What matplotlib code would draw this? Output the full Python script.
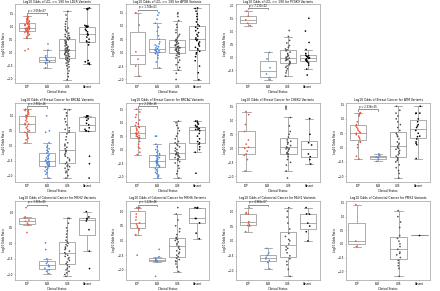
import numpy as np
import pandas as pd
import matplotlib
matplotlib.use("Agg")
import matplotlib.pyplot as plt
import seaborn as sns

np.random.seed(0)

order = ["PLP", "BLB", "VUS", "Absent"]
colors = {"PLP": "#e8523a", "BLB": "#4a86d9", "VUS": "#4d4d4d", "Absent": "#000000"}

# ---- LDL >= 190 ----
ldlr_plp = [1.40, 1.38, 1.35, 1.33, 1.30, 1.28, 1.25, 1.22, 1.20, 1.18, 1.15, 1.12, 1.10, 1.08,
            1.07, 1.06, 1.05, 1.03, 1.01, 1.00, 0.98, 0.96, 0.95, 0.94, 0.93, 0.92, 0.91, 0.90,
            0.88, 0.86, 0.85, 0.83, 0.82, 0.80, 0.79, 0.78, 0.76, 0.74, 0.70, 0.66, 0.60, 0.55,
            0.14, 0.08]
ldlr_blb = [0.34, 0.10, -0.12, -0.18, -0.22, -0.26, -0.29, -0.31, -0.35, -0.38, -0.42, -0.58]
ldlr_vus = [1.59, 1.45, 1.30, 1.20, 1.10, 1.00, 0.95, 0.90, 0.85, 0.80, 0.75, 0.70, 0.66, 0.62,
            0.58, 0.57, 0.55, 0.52, 0.50, 0.47, 0.44, 0.41, 0.38, 0.35, 0.32, 0.29, 0.26, 0.23,
            0.20, 0.18, 0.16, 0.14, 0.12, 0.10, 0.09, 0.08, 0.07, 0.05, 0.03, 0.01, -0.01, -0.03,
            -0.05, -0.07, -0.09, -0.11, -0.13, -0.15, -0.17, -0.19, -0.21, -0.23, -0.25, -0.27,
            -0.30, -0.33, -0.36, -0.40, -0.45, -0.50, -0.55, -0.62, -0.70, -0.80, -0.92, -1.04]
ldlr_abs = [1.72, 1.70, 1.68, 1.66, 1.05, 1.03, 1.02, 1.00, 1.00, 0.98, 0.90, 0.85, 0.80, 0.72,
            0.70, 0.70, 0.68, 0.60, 0.52, 0.45, 0.42, 0.40, 0.30, -0.30, -0.35, -0.40, -0.42, -0.45]

apob_plp = [1.49, 1.03, 0.03, -0.24, -0.50, -0.88]
apob_blb = [1.49, 1.40, 1.25, 1.10, 0.95, 0.80, 0.63, 0.50, 0.40, 0.33, 0.29, 0.25, 0.22, 0.18,
            0.15, 0.12, 0.10, 0.09, 0.08, 0.06, 0.04, 0.02, 0.00, -0.02, -0.04, -0.10, -0.20,
            -0.35, -0.57]
apob_vus = [1.49, 1.45, 1.35, 1.20, 1.05, 0.95, 0.85, 0.75, 0.68, 0.62, 0.56, 0.50, 0.47, 0.44,
            0.41, 0.38, 0.35, 0.32, 0.30, 0.28, 0.26, 0.24, 0.22, 0.20, 0.19, 0.18, 0.16, 0.14,
            0.12, 0.10, 0.08, 0.06, 0.04, 0.02, 0.00, -0.03, -0.06, -0.10, -0.15, -0.20, -0.28,
            -0.36, -0.45, -0.55, -0.65, -0.77, -1.00]
apob_abs = [1.67, 1.65, 1.55, 1.45, 1.35, 1.25, 1.15, 1.05, 1.00, 0.95, 0.90, 0.82, 0.75, 0.68,
            0.62, 0.55, 0.50, 0.49, 0.45, 0.40, 0.35, 0.30, 0.25, 0.20, 0.15, 0.10, 0.05, 0.00,
            -0.05, -0.15, -0.30, -0.50, -0.75, -1.01]

pcsk9_plp = [1.78, 1.58, 1.44, 1.31, 1.22]
pcsk9_blb = [0.19, -0.06, -0.40, -0.64, -0.78, -0.86]
pcsk9_vus = [1.03, 0.80, 0.65, 0.55, 0.45, 0.38, 0.32, 0.29, 0.25, 0.20, 0.15, 0.10, 0.06, 0.03,
             0.00, -0.03, -0.06, -0.08, -0.10, -0.12, -0.15, -0.18, -0.21, -0.25, -0.29, -0.33,
             -0.38, -0.44, -0.52, -0.60, -0.72]
pcsk9_abs = [1.50, 1.01, 0.57, 0.30, 0.15, 0.08, 0.06, 0.04, 0.02, 0.00, -0.02, -0.04, -0.06,
             -0.08, -0.10, -0.12, -0.15, -0.18, -0.22, -0.30, -0.45, -0.68]

# ---- Breast cancer ----
brca1_plp = [1.22, 1.20, 1.18, 1.15, 1.10, 1.05, 1.02, 1.00, 0.98, 0.95, 0.90, 0.85, 0.80, 0.75,
             0.72, 0.70, 0.65, 0.60, 0.55, 0.50, 0.48, 0.45, 0.40, 0.35, 0.30, 0.25, 0.20, 0.10]
brca1_blb = [1.00, 0.50, 0.45, 0.10, 0.00, -0.05, -0.10, -0.15, -0.20, -0.25, -0.30, -0.33,
             -0.36, -0.40, -0.42, -0.45, -0.48, -0.50, -0.52, -0.54, -0.55, -0.56, -0.58, -0.60,
             -0.62, -0.64, -0.66, -0.68, -0.70, -0.72, -0.75, -0.80, -0.85, -0.90, -0.95, -1.08]
brca1_vus = [1.22, 1.20, 1.10, 1.00, 0.90, 0.80, 0.70, 0.60, 0.55, 0.50, 0.45, 0.40, 0.30, 0.20,
             0.10, 0.05, 0.00, -0.05, -0.10, -0.15, -0.18, -0.20, -0.25, -0.30, -0.35, -0.40,
             -0.45, -0.50, -0.55, -0.60, -0.65, -0.68, -0.70, -0.75, -0.80, -0.85, -0.90, -1.00,
             -1.08]
brca1_abs = [1.00, 1.00, 1.00, 0.98, 0.95, 0.90, 0.85, 0.75, 0.70, 0.60, 0.55, 0.50, 0.50, 0.48,
             -0.35, -0.60, -1.08]

brca2_plp = [1.50, 1.40, 1.30, 1.20, 1.10, 1.00, 0.95, 0.90, 0.85, 0.82, 0.80, 0.75, 0.70, 0.65,
             0.62, 0.60, 0.58, 0.55, 0.52, 0.50, 0.48, 0.45, 0.44, 0.40, 0.30, 0.20, 0.10, 0.05,
             -0.10, -0.19]
brca2_blb = [0.50, 0.50, 0.20, 0.10, 0.00, -0.05, -0.10, -0.15, -0.20, -0.22, -0.25, -0.28, -0.30,
             -0.33, -0.36, -0.40, -0.42, -0.44, -0.46, -0.48, -0.50, -0.52, -0.55, -0.58, -0.60,
             -0.62, -0.65, -0.70, -0.75, -0.80, -0.85, -0.90, -0.95, -1.00, -1.06]
brca2_vus = [1.06, 1.00, 0.90, 0.80, 0.70, 0.60, 0.50, 0.40, 0.30, 0.25, 0.20, 0.15, 0.10, 0.05,
             0.00, -0.05, -0.10, -0.12, -0.15, -0.18, -0.19, -0.20, -0.22, -0.25, -0.28, -0.30,
             -0.33, -0.36, -0.40, -0.45, -0.50, -0.60, -0.70, -0.80, -0.90, -1.06]
brca2_abs = [1.06, 1.06, 1.00, 0.95, 0.90, 0.85, 0.85, 0.80, 0.78, 0.75, 0.75, 0.70, 0.60, 0.50,
             0.40, 0.30, 0.25, 0.20, 0.10, 0.00, -0.10, -0.88]

chek2_plp = [1.31, 1.20, 0.85, 0.60, 0.30, 0.15, 0.04, 0.00, -0.10, -0.20, -0.25, -0.40, -0.81]
chek2_blb = []
chek2_vus = [1.50, 1.45, 1.40, 1.10, 0.80, 0.60, 0.50, 0.40, 0.30, 0.25, 0.22, 0.20, 0.15, 0.10,
             0.05, 0.02, 0.00, -0.02, -0.05, -0.10, -0.15, -0.18, -0.20, -0.22, -0.30, -0.40,
             -0.50, -0.60, -0.81, -1.06]
chek2_abs = [1.06, 0.50, 0.20, 0.12, -0.20, -0.30, -0.40, -0.56]

atm_plp = [1.22, 1.20, 1.15, 1.10, 0.90, 0.80, 0.75, 0.70, 0.65, 0.60, 0.55, 0.52, 0.50, 0.45,
           0.40, 0.35, 0.30, 0.20, 0.19, 0.10, 0.00, -0.30, -0.40]
atm_blb = [-0.22, -0.28, -0.33, -0.35, -0.40, -0.48]
atm_vus = [1.44, 1.30, 1.20, 1.10, 1.00, 0.90, 0.80, 0.70, 0.60, 0.50, 0.45, 0.40, 0.38, 0.30,
           0.20, 0.15, 0.10, 0.05, 0.00, -0.03, -0.06, -0.10, -0.15, -0.20, -0.25, -0.30, -0.35,
           -0.40, -0.45, -0.50, -0.60, -0.70, -0.80, -0.90, -1.06]
atm_abs = [1.44, 1.20, 1.20, 1.19, 1.00, 0.90, 0.80, 0.75, 0.70, 0.60, 0.50, 0.40, 0.38, 0.30,
           0.20, 0.15, 0.10, -0.38]

# ---- Colorectal cancer ----
msh2_plp = [1.15, 0.85, 0.81, 0.75, 0.71, 0.65, 0.60, 0.35]
msh2_blb = [0.02, -0.20, -0.50, -0.60, -0.65, -0.70, -0.72, -0.75, -0.80, -0.85, -0.90, -0.97]
msh2_vus = [0.81, 0.80, 0.65, 0.50, 0.40, 0.30, 0.20, 0.10, 0.05, 0.00, -0.04, -0.08, -0.12,
            -0.16, -0.20, -0.25, -0.30, -0.34, -0.38, -0.42, -0.46, -0.50, -0.55, -0.60, -0.65,
            -0.70, -0.75, -0.80, -0.85, -0.90, -0.95, -1.00, -1.06]
msh2_abs = [1.02, 0.85, 0.80, 0.78, 0.72, 0.44, -0.25, -0.81]

msh6_plp = [1.12, 1.12, 1.12, 1.10, 0.90, 0.80, 0.70, 0.60, 0.56, 0.50, 0.45, 0.40, 0.35, 0.20,
            -0.50]
msh6_blb = [-0.30, -0.55, -0.62, -0.65, -0.68, -0.70, -0.72, -1.22]
msh6_vus = [1.12, 0.90, 0.70, 0.50, 0.40, 0.30, 0.20, 0.10, 0.06, 0.03, 0.00, -0.05, -0.10, -0.15,
            -0.20, -0.25, -0.30, -0.35, -0.40, -0.45, -0.50, -0.55, -0.60, -0.65, -0.70, -0.72,
            -0.80, -0.90, -1.06]
msh6_abs = [1.12, 1.12, 1.12, 1.10, 0.75, 0.75, 0.60, 0.25, 0.06]

mlh1_plp = [1.12, 0.95, 0.91, 0.91, 0.65, 0.60, 0.55, 0.52, 0.50, 0.31]
mlh1_blb = [-0.25, -0.40, -0.48, -0.55, -0.60, -0.65, -0.72, -0.94]
mlh1_vus = [1.12, 1.00, 0.80, 0.60, 0.40, 0.25, 0.15, 0.05, 0.00, -0.10, -0.20, -0.25, -0.30,
            -0.40, -0.50, -0.60, -0.69, -0.80, -0.95, -1.19]
mlh1_abs = [1.12, 0.91, 0.90, 0.60, 0.50, 0.31, 0.00]

pms2_plp = [1.44, 0.10, -0.10]
pms2_blb = []
pms2_vus = [1.22, 1.00, 0.80, 0.60, 0.30, 0.20, 0.10, 0.00, -0.10, -0.20, -0.30, -0.35, -0.40,
            -0.50, -0.60, -0.70, -0.80, -0.90, -1.19]
pms2_abs = [0.34]

titles = [
    "Log10 Odds of LDL >= 190 for LDLR Variants",
    "Log10 Odds of LDL >= 190 for APOB Variants",
    "Log10 Odds of LDL >= 190 for PCSK9 Variants",
    None,
    "Log10 Odds of Breast Cancer for BRCA1 Variants",
    "Log10 Odds of Breast Cancer for BRCA2 Variants",
    "Log10 Odds of Breast Cancer for CHEK2 Variants",
    "Log10 Odds of Breast Cancer for ATM Variants",
    "Log10 Odds of Colorectal Cancer for MSH2 Variants",
    "Log10 Odds of Colorectal Cancer for MSH6 Variants",
    "Log10 Odds of Colorectal Cancer for MLH1 Variants",
    "Log10 Odds of Colorectal Cancer for PMS2 Variants",
]
pvalues = ["p = 3.059e-07", "p = 1.706e-01", "p = 7.130e-02", None,
           "p = 2.902e-26", "p = 2.196e-36", None, "p = 2.336e-05",
           "p = 3.903e-05", "p = 1.226e-06", "p = 4.966e-07", None]

groups = [
    (ldlr_plp, ldlr_blb, ldlr_vus, ldlr_abs),
    (apob_plp, apob_blb, apob_vus, apob_abs),
    (pcsk9_plp, pcsk9_blb, pcsk9_vus, pcsk9_abs),
    None,
    (brca1_plp, brca1_blb, brca1_vus, brca1_abs),
    (brca2_plp, brca2_blb, brca2_vus, brca2_abs),
    (chek2_plp, chek2_blb, chek2_vus, chek2_abs),
    (atm_plp, atm_blb, atm_vus, atm_abs),
    (msh2_plp, msh2_blb, msh2_vus, msh2_abs),
    (msh6_plp, msh6_blb, msh6_vus, msh6_abs),
    (mlh1_plp, mlh1_blb, mlh1_vus, mlh1_abs),
    (pms2_plp, pms2_blb, pms2_vus, pms2_abs),
]

fig, axes = plt.subplots(3, 4, figsize=(22, 14.55), dpi=20)
fig.subplots_adjust(left=0.035, right=0.977, top=0.985, bottom=0.038, wspace=0.32, hspace=0.245)

for ax, title, pval, grp in zip(axes.flat, titles, pvalues, groups):
    if grp is None:
        ax.axis("off")
        continue
    df = pd.DataFrame({
        "status": sum([[cat] * len(vals) for cat, vals in zip(order, grp)], []),
        "value": sum([list(vals) for vals in grp], []),
    })
    sns.boxplot(data=df, x="status", y="value", order=order, color="white",
                linecolor="#8c8c8c", linewidth=2.5, showfliers=False, width=0.8, ax=ax)
    sns.stripplot(data=df, x="status", y="value", order=order, hue="status",
                  palette=colors, jitter=0.12, size=6, legend=False, ax=ax)
    if pval is not None:
        top = max(max(grp[0]), max(grp[1]))
        ymin, ymax = ax.get_ylim()
        h = (ymax - ymin) * 0.02
        y = top + h
        ax.plot([0, 0, 1, 1], [y, y + h, y + h, y], color="#666666", lw=2.5)
        ax.text(0.5, y + h * 1.3, pval, ha="center", va="bottom", fontsize=9)
    ax.set_title(title, fontsize=11)
    ax.set_xlabel("Clinical Status", fontsize=10)
    ax.set_ylabel("Log10 Odds Ratio", fontsize=10)
    ax.tick_params(labelsize=9.5)
    for s in ax.spines.values():
        s.set_color("#888888")
        s.set_linewidth(2)

fig.savefig("out.png", dpi=20)
